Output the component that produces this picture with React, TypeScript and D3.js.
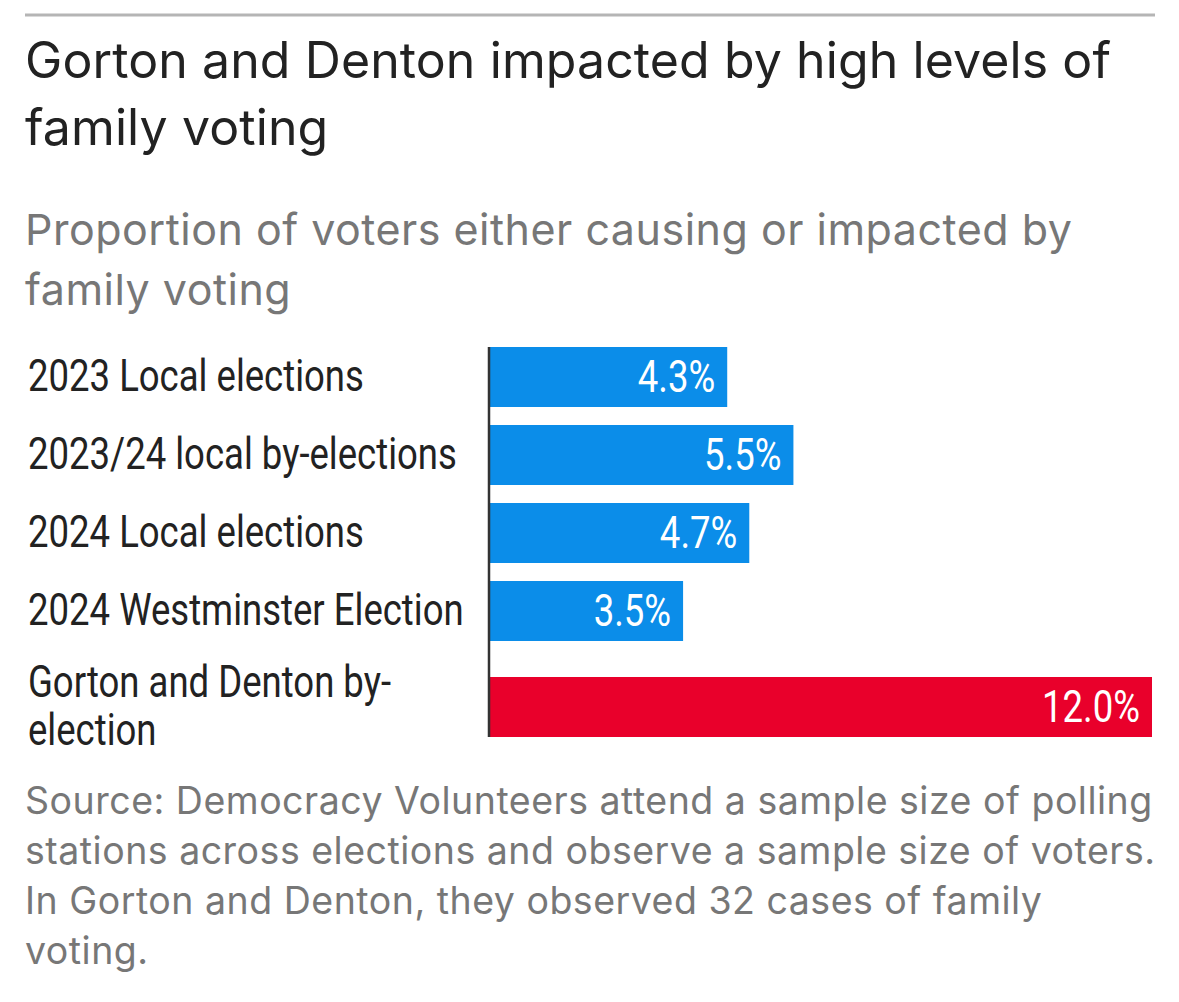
import { useEffect, useRef } from 'react'
import * as d3 from 'd3'

const categories = [
  '2023 Local elections',
  '2023/24 local by-elections',
  '2024 Local elections',
  '2024 Westminster Election',
  'Gorton and Denton by-election',
]
const labelLines = [
  ['2023 Local elections'],
  ['2023/24 local by-elections'],
  ['2024 Local elections'],
  ['2024 Westminster Election'],
  ['Gorton and Denton by-', 'election'],
]
const values = [4.3, 5.5, 4.7, 3.5, 12.0]
const highlight = [false, false, false, false, true]

const titleLines = ['Gorton and Denton impacted by high levels of', 'family voting']
const subtitleLines = ['Proportion of voters either causing or impacted by', 'family voting']
const sourceLines = [
  'Source: Democracy Volunteers attend a sample size of polling',
  'stations across elections and observe a sample size of voters.',
  'In Gorton and Denton, they observed 32 cases of family',
  'voting.',
]

const W = 1179
const H = 1002
const BLUE = '#0b8de9'
const RED = '#e9002b'
const SANS = 'Inter, Roboto, "Liberation Sans", sans-serif'
const COND = 'Roboto, "Liberation Sans", sans-serif'
const SQUEEZE = 0.83

export default function App() {
  const ref = useRef<SVGSVGElement>(null)

  useEffect(() => {
    document.body.style.margin = '0'
    const svg = d3.select(ref.current)
    svg.selectAll('*').remove()

    // top rule
    svg.append('line')
      .attr('x1', 25).attr('x2', 1155)
      .attr('y1', 15).attr('y2', 15)
      .attr('stroke', '#b5b5b5').attr('stroke-width', 3)

    // title + subtitle
    titleLines.forEach((t, i) => {
      svg.append('text')
        .attr('x', 25).attr('y', 78 + i * 67)
        .attr('font-family', SANS).attr('font-size', 50)
        .attr('fill', '#222').attr('letter-spacing', 0.1)
        .text(t)
    })
    subtitleLines.forEach((t, i) => {
      svg.append('text')
        .attr('x', 25).attr('y', 245 + i * 60)
        .attr('font-family', SANS).attr('font-size', 43)
        .attr('fill', '#777').attr('letter-spacing', 0.5)
        .text(t)
    })

    // rows: height depends on number of label lines
    const lineH = 48
    const pad = 18
    const barH = 60
    const rowH = labelLines.map(l => pad + Math.max(barH, l.length * lineH))
    const top = 338
    const rowTop = rowH.map((_, i) => top + d3.sum(rowH.slice(0, i)))
    const center = (i: number) => rowTop[i] + rowH[i] / 2

    const x = d3.scaleLinear().domain([0, 12]).range([490, 1152])

    const g = svg.append('g')

    g.selectAll('rect.bar')
      .data(values)
      .enter()
      .append('rect')
      .attr('class', 'bar')
      .attr('x', x(0))
      .attr('y', (_, i) => center(i) - barH / 2)
      .attr('width', d => x(d) - x(0))
      .attr('height', barH)
      .attr('fill', (_, i) => (highlight[i] ? RED : BLUE))

    // value labels
    g.selectAll('text.val')
      .data(values)
      .enter()
      .append('text')
      .attr('class', 'val')
      .attr('transform', (d, i) => `translate(${x(d) - 12},${center(i) + 15}) scale(${SQUEEZE},1)`)
      .attr('text-anchor', 'end')
      .attr('font-family', COND).attr('font-size', 44)
      .attr('fill', '#fff')
      .text(d => `${d.toFixed(1)}%`)

    // category labels
    labelLines.forEach((lines, i) => {
      const y0 = center(i) + 14 - ((lines.length - 1) * lineH) / 2
      lines.forEach((t, j) => {
        g.append('text')
          .attr('transform', `translate(28,${y0 + j * lineH}) scale(${SQUEEZE},1)`)
          .attr('font-family', COND).attr('font-size', 44)
          .attr('fill', '#222')
          .text(t)
      })
    })
    g.selectAll('title').data(categories)

    // axis line
    const last = values.length - 1
    g.append('line')
      .attr('x1', x(0) - 1).attr('x2', x(0) - 1)
      .attr('y1', center(0) - barH / 2)
      .attr('y2', center(last) + barH / 2)
      .attr('stroke', '#333').attr('stroke-width', 2.5)

    // source
    sourceLines.forEach((t, i) => {
      svg.append('text')
        .attr('x', 25).attr('y', 814 + i * 50)
        .attr('font-family', SANS).attr('font-size', 37.5)
        .attr('fill', '#777').attr('letter-spacing', 0.5)
        .text(t)
    })
  }, [])

  return <svg ref={ref} width={W} height={H} style={{ display: 'block', background: '#fff' }} />
}
